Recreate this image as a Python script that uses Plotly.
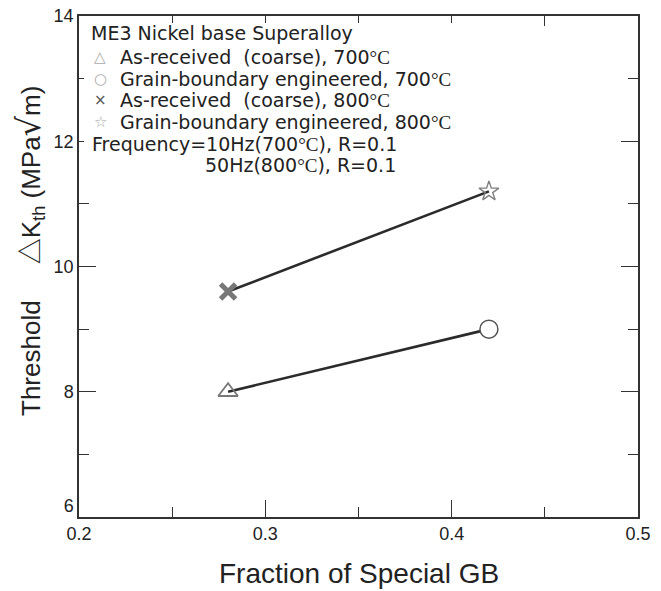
import plotly.graph_objects as go

# Fraction of special grain boundaries for the two microstructures
fraction = [0.28, 0.42]
# Threshold stress-intensity range (MPa*sqrt(m))
dk_700 = [8.0, 9.0]
dk_800 = [9.6, 11.2]

x_ticks = [0.2, 0.3, 0.4, 0.5]
y_ticks = [6, 8, 10, 12, 14]

legend_title = "ME3 Nickel base Superalloy"
C = "<span style=\"font-family:'Liberation Serif'\">°C</span>"
entry_labels = [
    f"As-received  (coarse), 700{C}",
    f"Grain-boundary engineered, 700{C}",
    f"As-received  (coarse), 800{C}",
    f"Grain-boundary engineered, 800{C}",
]
entry_glyphs = ["△", "○", "×", "☆"]
entry_glyph_colors = ["#aaaaaa", "#aaaaaa", "#555555", "#aaaaaa"]
freq_lines = [f"Frequency=10Hz(700{C}), R=0.1", f"50Hz(800{C}), R=0.1"]

NB = "\u00a0"
TRI = "<span style=\"font-family:'Noto Sans CJK JP'\">△</span>"
ROOT = "<span style=\"font-family:'DejaVu Sans';font-size:32px\">√</span>"
y_title = f"Threshold{NB * 5}{TRI}K<sub>th</sub> (MPa{ROOT}m)"
x_title = "Fraction of Special GB"

FONT = "Liberation Sans, Arial, sans-serif"
LEG_FONT = "DejaVu Sans, Verdana, sans-serif"
INK = "#222222"

fig = go.Figure()

# connecting lines
for ys in (dk_700, dk_800):
    fig.add_trace(go.Scatter(x=fraction, y=ys, mode="lines",
                             line=dict(color="#2b2b2b", width=2.6),
                             showlegend=False, hoverinfo="skip"))

# markers
fig.add_trace(go.Scatter(x=fraction[:1], y=dk_700[:1], mode="markers",
                         marker=dict(symbol="triangle-up-open", size=17,
                                     color="#777777", line=dict(width=1.8, color="#777777")),
                         showlegend=False))
fig.add_trace(go.Scatter(x=fraction[1:], y=dk_700[1:], mode="markers",
                         marker=dict(symbol="circle", size=18, color="white",
                                     line=dict(width=1.5, color="#555555")),
                         showlegend=False))
fig.add_trace(go.Scatter(x=fraction[:1], y=dk_800[:1], mode="markers",
                         marker=dict(symbol="x-thin", size=15, color="#777777",
                                     line=dict(width=5, color="#777777")),
                         showlegend=False))
fig.add_trace(go.Scatter(x=fraction[1:], y=dk_800[1:], mode="markers",
                         marker=dict(symbol="star-open", size=15,
                                     color="#808080", line=dict(width=1.4, color="#808080")),
                         showlegend=False))

# plot-area geometry (pixels) for placing the key text and titles
L, R, T, B = 79, 638, 16, 517


def px(xp):
    return (xp - L) / (R - L)


def py(yp):
    return 1 - (yp - T) / (B - T)


annotations = []
annotations.append(dict(x=px(89), y=py(33), text=legend_title))
for i, (g, col, lab) in enumerate(zip(entry_glyphs, entry_glyph_colors, entry_labels)):
    yc = [57, 79, 100, 122][i]
    annotations.append(dict(x=px(92), y=py(yc), text=f"<span style='color:{col};font-size:15px'>{g}</span>"))
    annotations.append(dict(x=px(118), y=py(yc), text=lab))
annotations.append(dict(x=px(90), y=py(144), text=freq_lines[0]))
annotations.append(dict(x=px(203), y=py(165), text=freq_lines[1]))
for a in annotations:
    a.update(xref="paper", yref="paper", xanchor="left", yanchor="middle",
             showarrow=False, font=dict(family=LEG_FONT, size=19, color=INK))

# axis titles
annotations.append(dict(x=px(30), y=py(251), xref="paper", yref="paper",
                        xanchor="center", yanchor="middle", textangle=-90,
                        showarrow=False, text=y_title,
                        font=dict(family=FONT, size=26, color=INK)))
annotations.append(dict(x=px(359), y=py(573), xref="paper", yref="paper",
                        xanchor="center", yanchor="middle",
                        showarrow=False, text=x_title,
                        font=dict(family=FONT, size=28, color=INK)))

# white panel behind the key
fig.add_shape(type="rect", xref="paper", yref="paper", layer="above",
              x0=px(84), x1=px(480), y0=py(176), y1=py(23),
              fillcolor="white", line=dict(width=0))

axis_common = dict(showline=True, linecolor="#333333", linewidth=1.5, mirror="ticks",
                   ticks="inside", ticklen=17, tickwidth=1.3, tickcolor="#333333",
                   showgrid=False, zeroline=False, automargin=False,
                   tickfont=dict(family=FONT, size=18, color=INK))

fig.update_xaxes(range=[0.2, 0.5], tickvals=x_ticks, ticktext=[f"{v:.1f}" for v in x_ticks],
                 minor=dict(dtick=0.05, ticks="inside", ticklen=10, tickcolor="#333333", tickwidth=1.3),
                 **axis_common)
# the lowest y label is lifted clear of the x labels
y_ticktext = [f"{v}<br> " if v == y_ticks[0] else str(v) for v in y_ticks]
fig.update_yaxes(range=[6, 14], tickvals=y_ticks, ticktext=y_ticktext,
                 minor=dict(dtick=1, ticks="inside", ticklen=10, tickcolor="#333333", tickwidth=1.3),
                 **axis_common)

fig.update_layout(width=661, height=591,
                  margin=dict(l=L, r=661 - R, t=T, b=591 - B),
                  paper_bgcolor="white", plot_bgcolor="white",
                  annotations=annotations, showlegend=False)

fig.write_html("out.html")
